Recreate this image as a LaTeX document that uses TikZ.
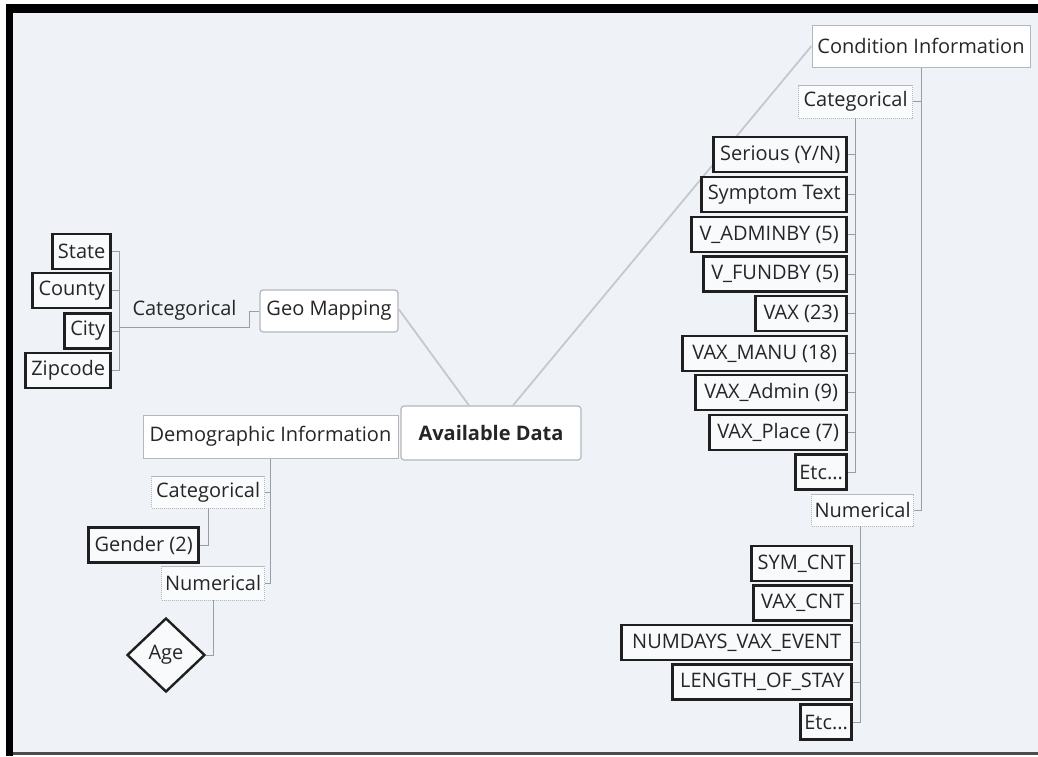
\documentclass[tikz,border=0pt]{standalone}
\usepackage{fontspec}
\setmainfont{Open Sans}
\usetikzlibrary{shapes.geometric}
\definecolor{bgc}{RGB}{239,243,247}
\definecolor{conncol}{RGB}{150,158,166}
\definecolor{maincol}{RGB}{196,201,206}
\definecolor{boxline}{RGB}{178,184,190}
\tikzset{
  every node/.style={font=\fontsize{20}{24}\selectfont, text=black!85, inner sep=0pt},
  leaf/.style={draw=black!88, line width=2.6pt, fill=white!55!bgc, minimum height=35pt, anchor=east},
  subbox/.style={draw=boxline, line width=0.8pt, dash pattern=on 1.2pt off 0.8pt, fill=white!70!bgc},
  topbox/.style={draw=boxline, line width=1pt, fill=white},
  rootbox/.style={draw=boxline, line width=1.2pt, fill=white, rounded corners=3pt},
  conn/.style={draw=conncol, line width=1pt},
  mainline/.style={draw=maincol, line width=1.8pt}
}
\begin{document}
\begin{tikzpicture}[x=1pt,y=-1pt]
\useasboundingbox (0,0) rectangle (1038,756);
\fill[white] (0,0) rectangle (1038,756);
\fill[bgc] (13,12) rectangle (1038,752);
\fill[black] (6,4) rectangle (1038,12.5);
\fill[black] (6,4) rectangle (13.3,756);
\fill[black!70] (13,752) rectangle (1038,754.5);

% root and main branches
\node[rootbox, minimum width=180pt, minimum height=54pt, font=\fontsize{20}{24}\selectfont\bfseries] (avail) at (491,433) {Available Data};
\node[rootbox, minimum width=138pt, minimum height=42pt] (geo) at (329,311) {Geo Mapping};
\node[topbox, minimum width=255pt, minimum height=43pt] (demo) at (270.5,436.5) {Demographic Information};
\node[topbox, minimum width=218pt, minimum height=42pt] (cond) at (921,46) {Condition Information};

\draw[mainline] ([xshift=-22pt]avail.north) -- ([yshift=2pt]geo.east);
\draw[mainline] ([xshift=22pt]avail.north) -- (cond.west);

% geo mapping
\node[minimum width=129pt, minimum height=34pt] (catG) at (184.5,310) {Categorical};
\node[leaf, minimum width=58pt] (state) at (112,251.5) {State};
\node[leaf, minimum width=78pt] (county) at (112,290.5) {County};
\node[leaf, minimum width=46pt] (city) at (112,331) {City};
\node[leaf, minimum width=85pt] (zip) at (112,370.5) {Zipcode};
\draw[conn] (geo.west) -| (catG.south east) -- (catG.south west);
\draw[conn] (state.east -| catG.south west) -- (zip.east -| catG.south west);
\foreach \n in {state,county,city,zip} \draw[conn] (\n.east) -- (\n.east -| catG.south west);

% demographic
\node[subbox, minimum width=113pt, minimum height=32pt, anchor=east] (catD) at (265,492) {Categorical};
\node[subbox, minimum width=103pt, minimum height=34pt, anchor=east] (numD) at (265,583) {Numerical};
\node[leaf, minimum width=110pt] (gender) at (200,545) {Gender (2)};
\node[diamond, draw=black!88, line width=2.4pt, fill=white!55!bgc, minimum width=78pt, minimum height=74pt] (age) at (166,655) {Age};
\draw[conn] (demo.south) |- (numD.east);
\draw[conn] (catD.east) -- (catD.east -| demo.south);
\draw[conn] (catD.south) |- (gender.east);
\draw[conn] (numD.south) |- (age.east);

% condition
\node[subbox, minimum width=114pt, minimum height=33pt, anchor=east] (catC) at (913,101.5) {Categorical};
\node[subbox, minimum width=102pt, minimum height=32pt, anchor=east] (numC) at (914,510) {Numerical};
\draw[conn] (cond.south) |- (numC.east);
\draw[conn] (catC.east) -- (catC.east -| cond.south);

\node[leaf, minimum width=133pt] (c1) at (848,154.5) {Serious (Y/N)};
\node[leaf, minimum width=145pt] (c2) at (848,194.5) {Symptom Text};
\node[leaf, minimum width=155pt] (c3) at (848,234.5) {V\_ADMINBY (5)};
\node[leaf, minimum width=143pt] (c4) at (848,274) {V\_FUNDBY (5)};
\node[leaf, minimum width=91pt] (c5) at (848,313.5) {VAX (23)};
\node[leaf, minimum width=164pt] (c6) at (848,353.5) {VAX\_MANU (18)};
\node[leaf, minimum width=151pt] (c7) at (848,392.5) {VAX\_Admin (9)};
\node[leaf, minimum width=137pt] (c8) at (848,432.5) {VAX\_Place (7)};
\node[leaf, minimum width=51pt] (c9) at (848,472) {Etc...};
\draw[conn] (catC.south) |- (c9.east);
\foreach \n in {c1,c2,c3,c4,c5,c6,c7,c8} \draw[conn] (\n.east) -- (\n.east -| catC.south);

\coordinate (nspine) at ([xshift=-2pt]numC.south);
\node[leaf, minimum width=100pt] (n1) at (853,563.5) {SYM\_CNT};
\node[leaf, minimum width=98pt] (n2) at (853,603) {VAX\_CNT};
\node[leaf, minimum width=230pt] (n3) at (853,642.5) {NUMDAYS\_VAX\_EVENT};
\node[leaf, minimum width=179pt] (n4) at (853,682) {LENGTH\_OF\_STAY};
\node[leaf, minimum width=51pt] (n5) at (853,722) {Etc...};
\draw[conn] (nspine) |- (n5.east);
\foreach \n in {n1,n2,n3,n4} \draw[conn] (\n.east) -- (\n.east -| nspine);
\end{tikzpicture}
\end{document}
